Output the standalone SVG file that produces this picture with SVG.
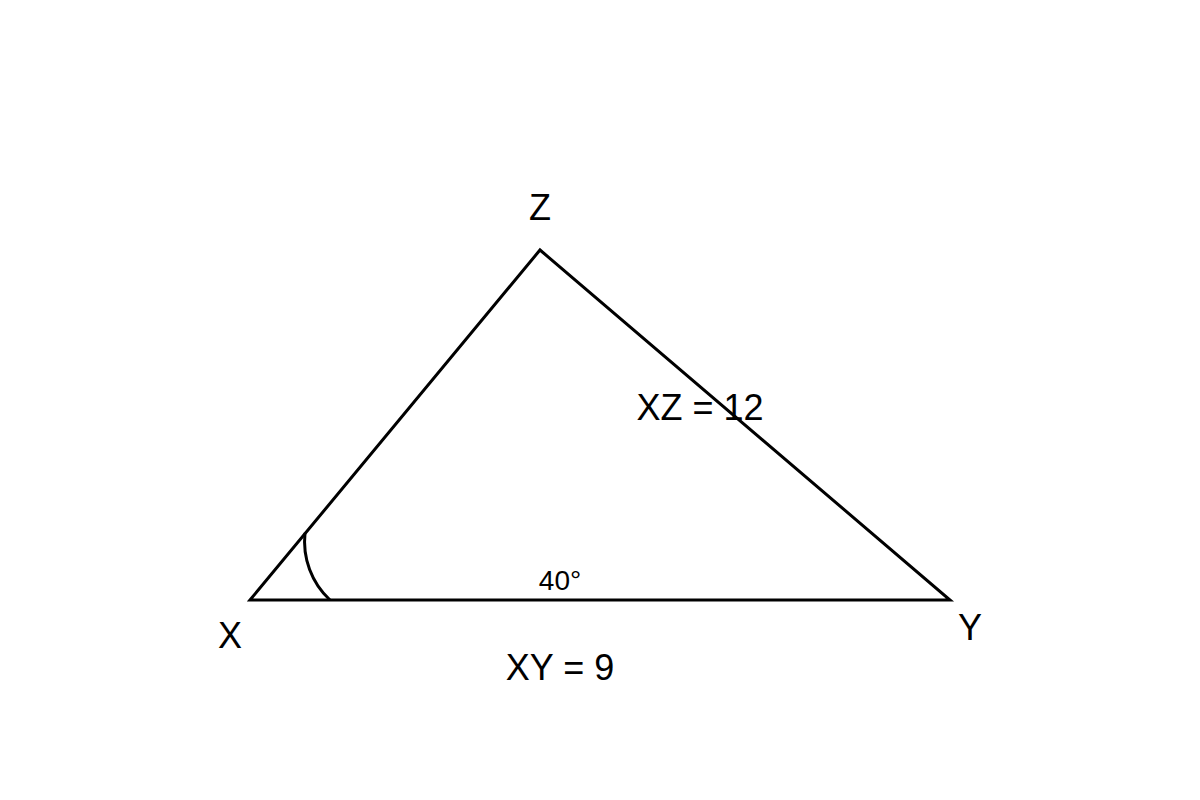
<svg xmlns="http://www.w3.org/2000/svg" width="1200" height="800" viewBox="0 0 1200 800">
<style>
.s{fill:none;stroke:#000;stroke-width:3;stroke-linejoin:miter}
.t{font-family:"Liberation Sans",Arial,sans-serif;font-size:36px;fill:#000;text-anchor:middle}
.a{font-size:28px}
</style>
<rect width="1200" height="800" fill="#fff"/>
<g id="triangle">
<polygon class="s" points="250,600 540,250 950,600"/>
</g>
<g id="angle">
<path class="s" d="M330,600 A80,80 0 0 1 305,533"/>
<text class="t a" x="560" y="590">40°</text>
</g>
<g id="labels">
<text class="t" x="540" y="220">Z</text>
<text class="t" x="230" y="648">X</text>
<text class="t" x="970" y="640">Y</text>
<text class="t" x="700" y="420">XZ = 12</text>
<text class="t" x="560" y="680">XY = 9</text>
</g>
</svg>
